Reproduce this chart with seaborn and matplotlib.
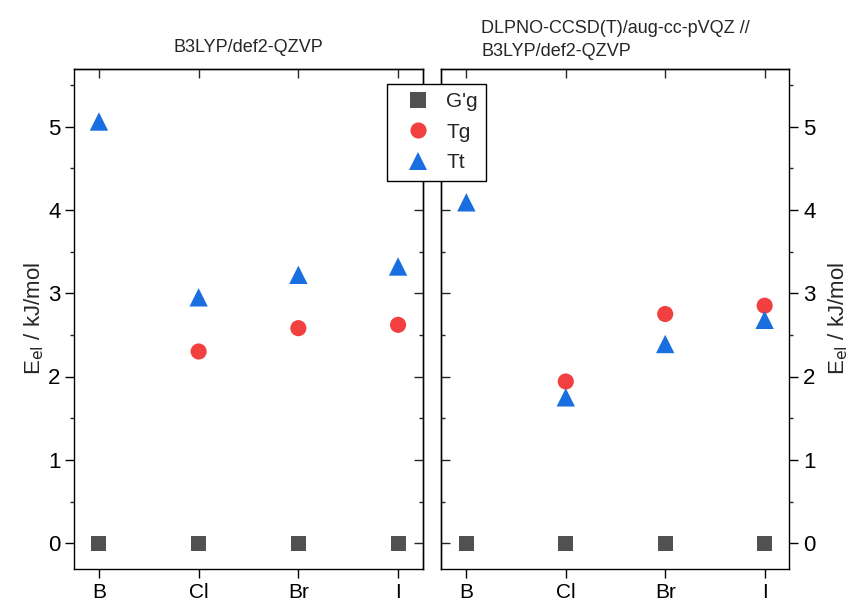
import pandas as pd
import matplotlib.pyplot as plt
import seaborn as sns
from matplotlib.ticker import MultipleLocator
from matplotlib.lines import Line2D

# dados (kJ/mol)
halides = ['B', 'Cl', 'Br', 'I']
conformers = ["G'g", 'Tg', 'Tt']

b3lyp_gg = [0.0, 0.0, 0.0, 0.0]
b3lyp_tg = [None, 2.30, 2.58, 2.62]
b3lyp_tt = [5.06, 2.95, 3.22, 3.32]

dlpno_gg = [0.0, 0.0, 0.0, 0.0]
dlpno_tg = [None, 1.94, 2.75, 2.85]
dlpno_tt = [4.09, 1.75, 2.39, 2.68]

title_left = 'B3LYP/def2-QZVP'
title_right = 'DLPNO-CCSD(T)/aug-cc-pVQZ //\nB3LYP/def2-QZVP'
ylabel = r'E$_{\mathrm{el}}$ / kJ/mol'

cores = {"G'g": '#515151', 'Tg': '#f24040', 'Tt': '#1a6fe0'}
marcadores = {"G'g": 's', 'Tg': 'o', 'Tt': '^'}
tamanhos = {"G'g": 118, 'Tg': 135, 'Tt': 175}


def monta_tabela(gg, tg, tt):
    linhas = []
    for conf, vals in zip(conformers, [gg, tg, tt]):
        for h, v in zip(halides, vals):
            if v is not None:
                linhas.append({'halide': h, 'conf': conf, 'E': v})
    return pd.DataFrame(linhas)


base_b3lyp = monta_tabela(b3lyp_gg, b3lyp_tg, b3lyp_tt)
base_dlpno = monta_tabela(dlpno_gg, dlpno_tg, dlpno_tt)

sns.set_theme(style='ticks')
plt.rcParams['font.family'] = ['Liberation Sans', 'DejaVu Sans']
plt.rcParams['axes.linewidth'] = 1.0

fig = plt.figure(figsize=(8.57, 6.03), dpi=100)
ax1 = fig.add_axes([74 / 857, 1 - 569 / 603, 349 / 857, 500 / 603])
ax2 = fig.add_axes([441.5 / 857, 1 - 569 / 603, 348 / 857, 500 / 603])

for ax, base in [(ax1, base_b3lyp), (ax2, base_dlpno)]:
    sns.scatterplot(data=base, x='halide', y='E', hue='conf', style='conf',
                    size='conf', palette=cores, markers=marcadores,
                    sizes=tamanhos, hue_order=conformers, style_order=conformers,
                    size_order=conformers, linewidth=0, legend=False,
                    zorder=3, ax=ax)
    ax.set_xlim(-0.25, 3.25)
    ax.set_ylim(-0.31, 5.69)
    ax.set_xlabel('')
    ax.yaxis.set_major_locator(MultipleLocator(1))
    ax.yaxis.set_minor_locator(MultipleLocator(0.5))
    ax.tick_params(which='major', direction='out', length=6.3, width=1.0,
                   labelsize=16, colors='black')
    ax.tick_params(which='minor', direction='out', length=3.2, width=1.0)
    ax.tick_params(axis='x', pad=4, labelsize=15)
    for s in ax.spines.values():
        s.set_visible(True)
        s.set_color('black')
    # ticks para dentro no lado oposto
    topo = ax.secondary_xaxis('top')
    topo.set_xticks([0, 1, 2, 3])
    topo.set_xticklabels([])
    topo.tick_params(direction='in', length=6.3, width=1.0)

# painel da esquerda
ax1.set_ylabel(ylabel, fontsize=16, labelpad=1)
ax1.set_title(title_left, fontsize=13, pad=12)
dir1 = ax1.secondary_yaxis('right')
dir1.yaxis.set_major_locator(MultipleLocator(1))
dir1.yaxis.set_minor_locator(MultipleLocator(0.5))
dir1.set_yticklabels([])
dir1.tick_params(which='major', direction='in', length=6.3, width=1.0)
dir1.tick_params(which='minor', direction='in', length=3.2, width=1.0)

# painel da direita: rótulos à direita
ax2.yaxis.tick_right()
ax2.yaxis.set_label_position('right')
ax2.tick_params(axis='y', which='both', left=False, right=True,
                labelleft=False, labelright=True)
ax2.set_ylabel(ylabel, fontsize=16, labelpad=8, rotation=90)
ax2.set_title(title_right, fontsize=13, pad=9, ma='left', linespacing=1.5)
esq2 = ax2.secondary_yaxis('left')
esq2.yaxis.set_major_locator(MultipleLocator(1))
esq2.yaxis.set_minor_locator(MultipleLocator(0.5))
esq2.set_yticklabels([])
esq2.tick_params(which='major', direction='in', length=6.3, width=1.0)
esq2.tick_params(which='minor', direction='in', length=3.2, width=1.0)

handles = [Line2D([], [], linestyle='', marker=marcadores[c], color=cores[c],
                  markersize=tamanhos[c] ** 0.5, markeredgewidth=0)
           for c in conformers]
leg = fig.legend(handles, conformers, loc='upper left',
                 bbox_to_anchor=(387 / 857, 1 - 84 / 603), fontsize=15,
                 frameon=True, fancybox=False, framealpha=1, edgecolor='black',
                 borderaxespad=0, borderpad=0.4, labelspacing=0.55,
                 handlelength=2.2, handletextpad=0.25)
leg.get_frame().set_linewidth(1.0)

plt.savefig('out.png', dpi=100)
